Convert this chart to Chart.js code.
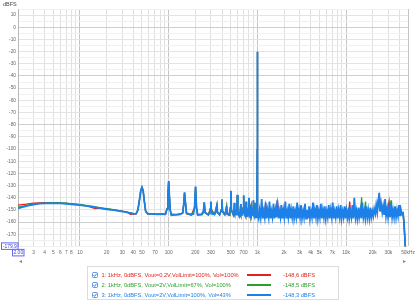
<!DOCTYPE html>
<html>
<head>
<meta charset="utf-8">
<script src="https://cdn.jsdelivr.net/npm/chart.js@4/dist/chart.umd.min.js"></script>
<style>
  html,body{margin:0;padding:0;background:#fff;width:419px;height:300px;overflow:hidden;}
  #wrap{position:relative;width:419px;height:300px;}
  canvas{position:absolute;left:0;top:0;}
  .lbl{position:absolute;font-family:"Liberation Sans",Arial,sans-serif;white-space:nowrap;}
  #legend{position:absolute;left:87px;top:266px;width:250px;height:32px;border:1px solid #dcdcdc;background:#fff;}
  .row{position:absolute;left:0;height:10px;width:250px;font-family:"Liberation Sans",Arial,sans-serif;font-size:5.7px;line-height:10px;}
  .row svg{position:absolute;left:4px;top:2px;}
  .row .t{position:absolute;left:13.5px;top:0;}
  .row .ln{position:absolute;left:158.5px;top:4.3px;width:24px;height:1.5px;}
  .row .v{position:absolute;left:195px;top:0;}
</style>
</head>
<body>
<div id="wrap">
<canvas id="c" width="419" height="300"></canvas>
<div class="lbl" style="left:3px;top:1px;font-size:5.5px;color:#444;">dBFS</div>
<div class="lbl" style="left:19px;top:257px;font-size:6px;color:#888;">◂</div>
<div class="lbl" style="left:403px;top:257px;font-size:6px;color:#888;">▸</div>
<div id="legend"></div>
</div>
<script>
// ---------- data ----------
const seriesNames = [
  "1: 1kHz, 0dBFS, Vout=0.2V,VolLimit=100%, Vol=100%",
  "2: 1kHz, 0dBFS, Vout=2V,VolLimit=67%, Vol=100%",
  "3: 1kHz, 0dBFS, Vout=2V,VolLimit=100%, Vol=43%"
];
const seriesValues = ["-148,6 dBFS", "-148,5 dBFS", "-148,3 dBFS"];
const seriesColors = ["rgb(226,34,30)", "rgb(44,160,44)", "rgb(28,128,232)"];

const xGridValues = [2,3,4,5,6,7,8,9,10,20,30,40,50,60,70,80,90,100,200,300,400,500,600,700,800,900,1000,2000,3000,4000,5000,6000,7000,8000,9000,10000,20000,30000,40000,50000];
const xTickLabels = {3:"3",4:"4",5:"5",6:"6",7:"7",8:"8",10:"10",20:"20",30:"30",40:"40",50:"50",70:"70",100:"100",200:"200",300:"300",500:"500",700:"700",1000:"1k",2000:"2k",3000:"3k",4000:"4k",5000:"5k",7000:"7k",10000:"10k",20000:"20k",30000:"30k",50000:"50kHz"};
const yTickLabels = [10,0,-10,-20,-30,-40,-50,-60,-70,-80,-90,-100,-110,-120,-130,-140,-150,-160,-170];
const yGridValues = [15,10,5,0,-5,-10,-15,-20,-25,-30,-35,-40,-45,-50,-55,-60,-65,-70,-75,-80,-85,-90,-95,-100,-105,-110,-115,-120,-125,-130,-135,-140,-145,-150,-155,-160,-165,-170,-175,-179.9];

const redLow = [[2,-146],[2.5,-145.2],[3,-144.4],[4,-144],[5,-144],[7,-144.6],[10,-145.8],[12,-146.6],[14,-148.2],[15,-148.9],[17,-148.5],[20,-149.3],[25,-150.1],[30,-151],[34,-151.8],[37,-153.6],[40,-153.4],[43,-153.2],[45,-150],[47,-141],[48.5,-134],[50,-131.5],[51.5,-134],[53,-142],[55,-151],[58,-153.3],[70,-153.4],[80,-153.6],[92,-153.8],[96,-149],[98,-139],[100,-126.5],[102,-139],[104,-150],[107,-154.2],[130,-153.8],[144,-152.5],[148,-145],[151,-136],[155,-145],[159,-153],[180,-154.2],[196,-148],[201,-131],[206,-148],[212,-154],[240,-153.8],[247,-151],[252,-144],[257,-152],[280,-154.3],[296,-149],[299,-143.5],[303,-150],[330,-153.5],[350,-145.5],[355,-152],[375,-154],[393,-150],[399,-141],[405,-151],[430,-153.8],[450,-147],[455,-153.5],[490,-154.5],[497,-148],[503,-134.2],[510,-150],[540,-154.3],[551,-144.5],[556,-153],[589,-149],[595,-138],[602,-151],[630,-155],[649,-145.5],[654,-153.5],[695,-148],[701,-138.5],[708,-151],[740,-155.5],[749,-143.5],[754,-154],[797,-148],[803,-140.5],[810,-152],[850,-146],[855,-155.5],[895,-149],[901,-142.5],[907,-154],[950,-144.5],[960,-156.5],[990,-151],[998,-100],[1000,-20.2],[1002,-100]];
const redHigh = [[1010,-154],[1120,-153],[1180,-155],[1240,-145],[1300,-154],[1440,-153],[1600,-155],[1680,-143],[1770,-154],[2070,-153],[2290,-154],[2540,-153],[2810,-155],[3110,-154],[3450,-153],[3820,-155],[4240,-154],[4700,-153],[5200,-155],[5760,-154],[6390,-153],[7080,-155],[7840,-154],[8690,-153],[9630,-155],[10700,-154],[11000,-143],[11300,-154],[12400,-153],[13800,-155],[15300,-153],[16900,-154],[18800,-155],[20300,-153],[21900,-150],[23700,-138],[24900,-149],[26900,-152],[29100,-153],[30600,-143],[31400,-154],[33900,-153],[36700,-154],[39600,-153],[42800,-153],[43900,-152],[45000,-161],[46000,-173],[47000,-186]];

const greenLow = [[2,-147.6],[2.5,-146.2],[3,-145],[4,-144.4],[5,-144],[6,-144.1],[7,-144.3],[8,-144.8],[10,-145.5],[13,-146.8],[16,-147.9],[20,-149],[25,-150],[30,-151.2],[35,-151.9],[40,-152.8],[43,-153],[45,-150],[47,-141],[48.5,-134],[50,-131.3],[51.5,-134],[53,-142],[55,-151],[58,-153.2],[70,-153.5],[85,-153.2],[92,-153.6],[96,-149],[98,-139],[100,-126.3],[102,-139],[104,-150],[107,-154.5],[125,-153.6],[144,-152.5],[148,-145],[151,-135.8],[155,-145],[159,-153],[185,-153.7],[196,-148],[201,-130.9],[206,-148],[212,-154.3],[240,-153.6],[247,-151],[252,-143.9],[257,-152],[280,-153.8],[296,-149],[299,-143.2],[303,-150],[330,-153.8],[350,-145.2],[355,-152],[375,-154.2],[393,-150],[399,-142.2],[405,-151],[430,-154],[450,-146.8],[455,-153.5],[490,-154.2],[497,-148],[503,-134.6],[510,-150],[540,-154.5],[551,-144.3],[556,-153],[589,-149],[595,-137.8],[602,-151],[630,-155.2],[649,-145.3],[654,-153.5],[695,-148],[701,-138.3],[708,-151],[740,-155.2],[749,-143.2],[754,-154],[797,-148],[803,-140.2],[810,-152],[850,-146.3],[855,-155.8],[895,-149],[901,-142.3],[907,-154],[950,-144.2],[960,-156.2],[990,-151],[998,-100],[1000,-20.1],[1002,-100]];
const greenHigh = [[1010,-153],[1150,-154],[1270,-153],[1410,-155],[1560,-154],[1820,-153],[1910,-155],[2120,-154],[2350,-153],[2600,-155],[2880,-154],[3190,-153],[3540,-155],[3920,-154],[4350,-153],[4820,-155],[5340,-154],[5910,-153],[6550,-155],[7260,-154],[8050,-153],[8910,-155],[9880,-154],[10900,-153],[12100,-155],[13400,-154],[14500,-154],[15000,-139.6],[15300,-154],[16100,-153],[16600,-143],[16900,-154],[19300,-153],[21400,-150],[23100,-146],[24300,-151],[26200,-150],[28300,-154],[30600,-153],[32200,-142],[32600,-154],[35700,-153],[38600,-154],[41700,-153],[43900,-152],[45000,-160],[46000,-172],[47000,-186]];

const blueLow = [[2,-148.6],[2.3,-147.5],[2.6,-146.5],[3,-145.5],[3.5,-144.8],[4,-144.5],[5,-144.4],[6,-144.6],[7,-144.9],[8,-145.3],[10,-146],[12,-146.8],[14,-147.2],[16,-148.2],[18,-148.8],[20,-149.4],[24,-150.2],[28,-150.9],[32,-151.6],[36,-152.3],[40,-153.2],[43,-153],[45,-150],[47,-141],[48.5,-134],[50,-131.4],[51.5,-134],[53,-142],[55,-151],[58,-153],[65,-153.2],[75,-153.5],[85,-153.3],[92,-153.4],[96,-149],[98,-139],[100,-126.2],[102,-139],[104,-150],[107,-153.5],[120,-153.8],[135,-153.5],[144,-152.5],[148,-145],[151,-135.5],[155,-145],[159,-152.5],[175,-153.6],[190,-153.5],[196,-148],[201,-130.8],[206,-148],[212,-153.8],[235,-153.5],[247,-151],[252,-143.7],[257,-152],[275,-153.5],[292,-153],[296,-149],[299,-143],[303,-150],[310,-153.5],[330,-153.2],[345,-151],[350,-145],[355,-152],[375,-153.8],[393,-150],[399,-142],[405,-151],[425,-153.5],[444,-152],[450,-146.5],[455,-153],[480,-153.8],[497,-148],[503,-134.4],[510,-150],[535,-153.8],[548,-152],[551,-144],[556,-153],[578,-153.8],[589,-149],[595,-137.5],[602,-151],[622,-154.5],[643,-152],[649,-145],[654,-153.5],[680,-154],[695,-148],[701,-138],[708,-151],[730,-155],[744,-151],[749,-143],[754,-154],[780,-155],[797,-148],[803,-140],[810,-152],[830,-156],[845,-152],[850,-146],[855,-155],[878,-153],[895,-149],[901,-142],[907,-154],[930,-156],[945,-151],[950,-144],[955,-155],[975,-156],[990,-151],[998,-100],[1000,-20],[1002,-100]];
const blueHigh = [[1010,-153],[1035,-157],[1060,-150],[1090,-156],[1120,-141],[1150,-157],[1180,-151],[1210,-156],[1240,-144],[1270,-157],[1300,-150],[1340,-156],[1370,-143],[1410,-157],[1440,-151],[1480,-156],[1520,-145],[1560,-157],[1600,-150],[1640,-156],[1680,-142],[1730,-157],[1770,-151],[1820,-156],[1860,-146],[1910,-157],[1960,-150],[2010,-156],[2070,-143],[2120,-157],[2180,-151],[2230,-156],[2290,-145],[2350,-157],[2410,-150],[2470,-156],[2540,-147],[2600,-157],[2670,-151],[2740,-156],[2810,-144],[2880,-157],[2960,-150],[3030,-156],[3110,-146],[3190,-157],[3280,-151],[3360,-156],[3450,-145],[3540,-157],[3630,-150],[3730,-156],[3820,-147],[3920,-157],[4020,-151],[4130,-156],[4240,-144],[4350,-157],[4460,-150],[4580,-156],[4700,-146],[4820,-157],[4940,-151],[5070,-156],[5200,-145],[5340,-157],[5480,-150],[5620,-156],[5760,-147],[5910,-157],[6070,-151],[6220,-156],[6390,-146],[6550,-157],[6720,-150],[6900,-156],[7080,-144],[7260,-157],[7450,-151],[7640,-156],[7840,-147],[8050,-157],[8250,-150],[8470,-156],[8690,-146],[8910,-157],[9150,-151],[9380,-156],[9630,-147],[9880,-157],[10100,-150],[10400,-156],[10700,-148],[10900,-157],[11200,-151],[11500,-156],[11800,-146],[12100,-157],[12400,-140],[12800,-156],[13100,-151],[13400,-157],[13800,-148],[14100,-156],[14500,-150],[14900,-157],[15300,-144],[15700,-156],[16100,-151],[16500,-157],[16900,-147],[17400,-156],[17800,-150],[18300,-157],[18800,-148],[19300,-156],[19800,-151],[20300,-155],[20800,-149],[21400,-153],[21900,-146],[22500,-152],[23100,-143],[23700,-136],[24300,-151],[24900,-145],[25600,-152],[26200,-147],[26900,-154],[27600,-141],[28300,-155],[29100,-149],[29800,-156],[30600,-148],[31400,-156],[32200,-145],[33100,-156],[33900,-150],[34800,-156],[35700,-147],[36700,-156],[37600,-150],[38600,-155],[39600,-146],[40600,-155],[41700,-150],[42800,-154],[43900,-152],[45000,-160],[46000,-172],[47000,-186]];

// ---------- build ----------
const toXY = arr => arr.map(p => ({x: p[0], y: p[1]}));
const seriesData = [redLow.concat(redHigh), greenLow.concat(greenHigh), blueLow.concat(blueHigh)];
const widths = [1.3, 1.3, 1.8];
const orders = [2, 1, 0];

// legend (HTML)
const leg = document.getElementById('legend');
seriesNames.forEach((n, i) => {
  const r = document.createElement('div');
  r.className = 'row';
  r.style.top = (3 + i * 10) + 'px';
  r.style.color = seriesColors[i];
  r.innerHTML = '<svg width="6" height="6" viewBox="0 0 6 6"><rect x="0.5" y="0.5" width="5" height="5" rx="1" fill="#fff" stroke="#3c7ee0" stroke-width="0.8"/><polyline points="1.4,3.1 2.6,4.3 4.7,1.6" fill="none" stroke="#2a6fd6" stroke-width="0.9"/></svg>' +
    '<span class="t"></span><div class="ln"></div><span class="v"></span>';
  r.querySelector('.t').textContent = n;
  r.querySelector('.v').textContent = seriesValues[i];
  r.querySelector('.ln').style.background = seriesColors[i];
  leg.appendChild(r);
});

const boxPlugin = {
  id: 'boxes',
  afterDraw(chart) {
    const {ctx, scales: {x, y}} = chart;
    ctx.save();
    ctx.font = '5px "Liberation Sans", Arial, sans-serif';
    ctx.textBaseline = 'middle';
    ctx.lineWidth = 1;
    const yb = y.getPixelForValue(y.min);
    ctx.fillStyle = '#fff';
    ctx.fillRect(1, yb - 4, 17, 7);
    ctx.strokeStyle = '#6464f0';
    ctx.strokeRect(1.5, yb - 3.5, 16.5, 6.5);
    ctx.fillStyle = '#4040e0';
    ctx.textAlign = 'center';
    ctx.fillText(y.min.toFixed(1), 9.8, yb);
    const xb = x.getPixelForValue(x.min);
    ctx.fillStyle = '#fff';
    ctx.fillRect(xb - 6, yb + 2.5, 12, 7);
    ctx.strokeStyle = '#6464f0';
    ctx.strokeRect(xb - 5.5, yb + 3, 11.5, 6.5);
    ctx.fillStyle = '#4040e0';
    ctx.fillText(x.min.toFixed(2), xb + 0.3, yb + 6.3);
    ctx.restore();
  }
};

new Chart(document.getElementById('c'), {
  type: 'line',
  data: {
    datasets: seriesData.map((d, i) => ({
      data: toXY(d),
      borderColor: seriesColors[i],
      borderWidth: widths[i],
      pointRadius: 0,
      tension: 0,
      fill: false,
      order: orders[i]
    }))
  },
  options: {
    responsive: false,
    animation: false,
    events: [],
    layout: {padding: {left: 0, top: 9, right: 11, bottom: 39.6}},
    plugins: {legend: {display: false}, tooltip: {enabled: false}},
    scales: {
      x: {
        type: 'logarithmic',
        min: 2, max: 50000,
        afterBuildTicks: s => { s.ticks = xGridValues.map(v => ({value: v})); },
        afterFit: s => { s.height = 14; },
        border: {display: false},
        grid: {
          drawTicks: false,
          color: c => {
            const v = c.tick ? c.tick.value : 0;
            const l = Math.log10(v);
            if (Math.abs(l - Math.round(l)) < 1e-9 || v === 50000) return '#c4c4c4';
            return '#e0e0e0';
          },
          lineWidth: 1
        },
        ticks: {
          autoSkip: false, maxRotation: 0, minRotation: 0, padding: 3,
          color: '#666',
          font: {family: '"Liberation Sans", Arial, sans-serif', size: 4.8},
          callback: v => xTickLabels[v] || ''
        }
      },
      y: {
        type: 'linear',
        min: -179.9, max: 15,
        afterBuildTicks: s => { s.ticks = yGridValues.map(v => ({value: v})); },
        afterFit: s => { s.width = 18; },
        border: {display: true, color: '#b8b8b8'},
        grid: {
          drawTicks: false,
          color: c => {
            const v = c.tick ? c.tick.value : 0;
            if (v % 40 === 0) return '#cfcfcf';
            if (v % 10 === 0) return '#e4e4e4';
            return '#f0f0f0';
          },
          lineWidth: 1
        },
        ticks: {
          autoSkip: false,
          padding: 2,
          color: '#666',
          font: {family: '"Liberation Sans", Arial, sans-serif', size: 4.8},
          callback: v => yTickLabels.includes(v) ? String(v) : ''
        }
      }
    }
  },
  plugins: [boxPlugin]
});
</script>
</body>
</html>
